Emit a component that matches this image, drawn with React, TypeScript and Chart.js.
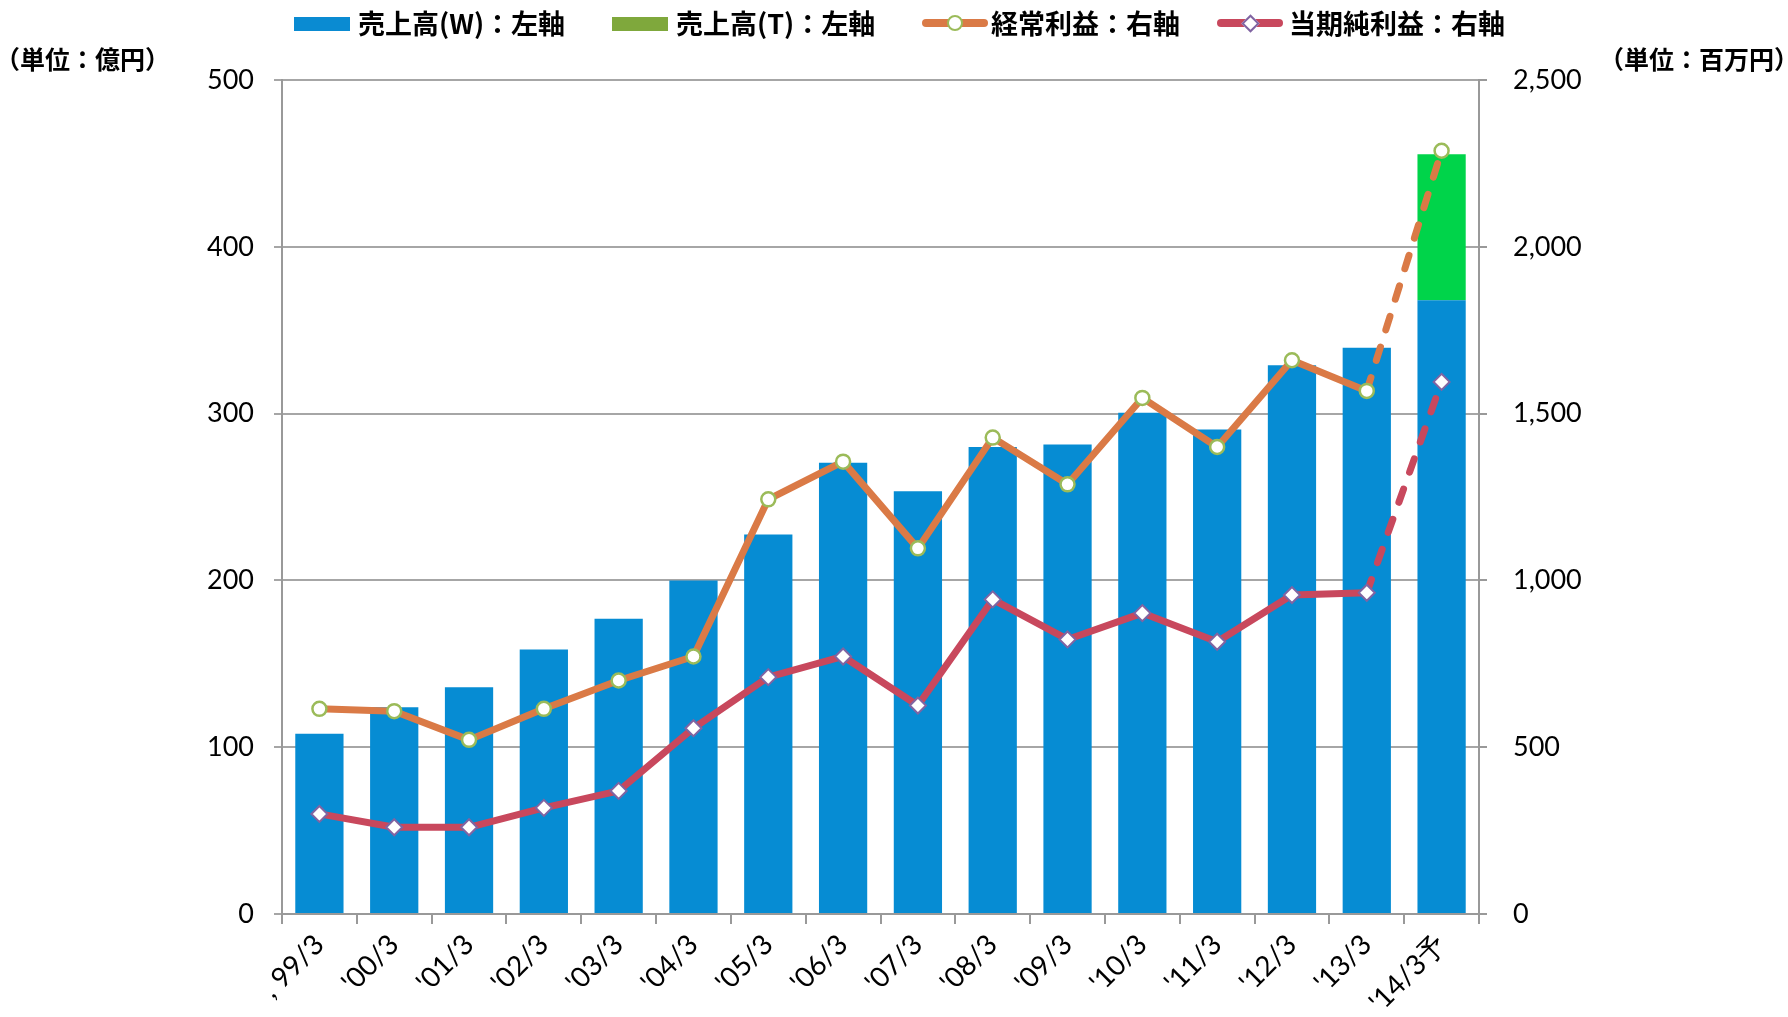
import React, { useEffect, useRef } from 'react';
import { Chart, registerables } from 'chart.js';
Chart.register(...registerables);

const categories = [", 99/3", "'00/3", "'01/3", "'02/3", "'03/3", "'04/3", "'05/3", "'06/3", "'07/3", "'08/3", "'09/3", "'10/3", "'11/3", "'12/3", "'13/3", "'14/3予"];
const salesW = [108, 124, 136, 158.5, 177, 200, 227.5, 270.5, 253.5, 280, 281.5, 300.5, 290.5, 329, 339.5, 368];
const salesT = [null, null, null, null, null, null, null, null, null, null, null, null, null, null, null, 87.5];
const ordinaryProfit = [615, 608, 522, 615, 700, 772, 1243, 1356, 1096, 1428, 1288, 1547, 1400, 1660, 1568, 2288];
const netProfit = [300, 260, 260, 318, 369, 557, 710, 772, 625, 943, 823, 902, 816, 956, 963, 1595];
const leftAxisMax = 500;
const rightAxisMax = 2500;

const legendItems = [
  { label: '売上高(W)：左軸', kind: 'box', color: '#0A8BD2', x: 294, textX: 358 },
  { label: '売上高(T)：左軸', kind: 'box', color: '#7FA83C', x: 612, textX: 676 },
  { label: '経常利益：右軸', kind: 'circle', color: '#DA7A46', marker: '#9BBB59', x: 922, textX: 991 },
  { label: '当期純利益：右軸', kind: 'diamond', color: '#C8485D', marker: '#8064A2', x: 1217, textX: 1289 },
];

const tickFont = { family: 'Lato, "Noto Sans", sans-serif', size: 27 };
const jpFont = '"Noto Sans CJK JP", sans-serif';

export default function App() {
  const ref = useRef<HTMLCanvasElement>(null);
  useEffect(() => {
    document.body.style.margin = '0';
    const dash = (ctx: any) => (ctx.p1DataIndex === categories.length - 1 ? [14, 18] : undefined);
    const chart = new Chart(ref.current!, {
      type: 'bar',
      data: {
        labels: categories,
        datasets: [
          { type: 'line', label: '経常利益', data: ordinaryProfit, yAxisID: 'y1', borderColor: '#DA7A46', borderWidth: 7, borderCapStyle: 'round', borderJoinStyle: 'round', pointStyle: 'circle', pointRadius: 7, pointBackgroundColor: '#ffffff', pointBorderColor: '#9BBB59', pointBorderWidth: 2.5, segment: { borderDash: dash }, order: 1, fill: false, tension: 0 } as any,
          { type: 'line', label: '当期純利益', data: netProfit, yAxisID: 'y1', borderColor: '#C8485D', borderWidth: 7, borderCapStyle: 'round', borderJoinStyle: 'round', pointStyle: 'rectRot', pointRadius: 8, pointBackgroundColor: '#ffffff', pointBorderColor: '#8064A2', pointBorderWidth: 2, segment: { borderDash: dash }, order: 1, fill: false, tension: 0 } as any,
          { type: 'bar', label: '売上高(W)', data: salesW, yAxisID: 'y', backgroundColor: '#068CD3', barPercentage: 0.645, categoryPercentage: 1, order: 2 },
          { type: 'bar', label: '売上高(T)', data: salesT as any, yAxisID: 'y', backgroundColor: '#00D44A', barPercentage: 0.645, categoryPercentage: 1, order: 2 },
        ],
      },
      options: {
        animation: false,
        responsive: false,
        devicePixelRatio: 1,
        layout: { padding: { top: 80, left: 0, right: 0, bottom: 0 } },
        plugins: { legend: { display: false }, tooltip: { enabled: false } },
        scales: {
          x: {
            stacked: true,
            offset: true,
            grid: { display: true, drawOnChartArea: false, offset: true, tickLength: 10, color: '#999', lineWidth: 2 },
            border: { display: true, color: '#999', width: 2 },
            ticks: { minRotation: 45, maxRotation: 45, color: '#000', font: { ...tickFont, size: 28 }, padding: 4, autoSkip: false },
            afterFit: (s: any) => { s.height = 103; },
          },
          y: {
            stacked: true,
            position: 'left',
            min: 0,
            max: leftAxisMax,
            ticks: { stepSize: 100, color: '#000', font: tickFont, padding: 20 },
            grid: { color: '#A6A6A6', lineWidth: 2, tickLength: 8 },
            border: { display: true, color: '#999', width: 2 },
            afterFit: (s: any) => { s.width = 282; },
          },
          y1: {
            position: 'right',
            min: 0,
            max: rightAxisMax,
            ticks: { stepSize: 500, color: '#000', font: tickFont, padding: 26, callback: (v: any) => Number(v).toLocaleString('en-US') },
            grid: { drawOnChartArea: false, color: '#999', lineWidth: 2, tickLength: 8 },
            border: { display: true, color: '#999', width: 2 },
            afterFit: (s: any) => { s.width = 309; },
          },
        },
      },
    });
    return () => chart.destroy();
  }, []);

  return (
    <div style={{ position: 'relative', width: 1788, height: 1017, background: '#fff' }}>
      <canvas ref={ref} width={1788} height={1017} style={{ display: 'block' }} />
      {legendItems.map((it) => (
        <React.Fragment key={it.label}>
          {it.kind === 'box' ? (
            <div style={{ position: 'absolute', left: it.x, top: 17, width: 56, height: 14, background: it.color }} />
          ) : (
            <div style={{ position: 'absolute', left: it.x, top: 19, width: 66, height: 8, borderRadius: 4, background: it.color }}>
              {it.kind === 'circle' ? (
                <div style={{ position: 'absolute', left: 25, top: -4, width: 12, height: 12, background: '#fff', border: `2px solid ${it.marker}`, borderRadius: '50%' }} />
              ) : (
                <div style={{ position: 'absolute', left: 27, top: -2, width: 9, height: 9, background: '#fff', border: `2px solid ${it.marker}`, transform: 'rotate(45deg)' }} />
              )}
            </div>
          )}
          <div style={{ position: 'absolute', left: it.textX, top: 5, fontFamily: jpFont, fontWeight: 700, fontSize: 27, lineHeight: '36px', whiteSpace: 'nowrap', color: '#000' }}>{it.label}</div>
        </React.Fragment>
      ))}
      <div style={{ position: 'absolute', left: -5, top: 42, fontFamily: jpFont, fontWeight: 700, fontSize: 25, lineHeight: '32px', whiteSpace: 'nowrap' }}>（単位：億円）</div>
      <div style={{ position: 'absolute', left: 1599, top: 42, fontFamily: jpFont, fontWeight: 700, fontSize: 25, lineHeight: '32px', whiteSpace: 'nowrap' }}>（単位：百万円）</div>
    </div>
  );
}
